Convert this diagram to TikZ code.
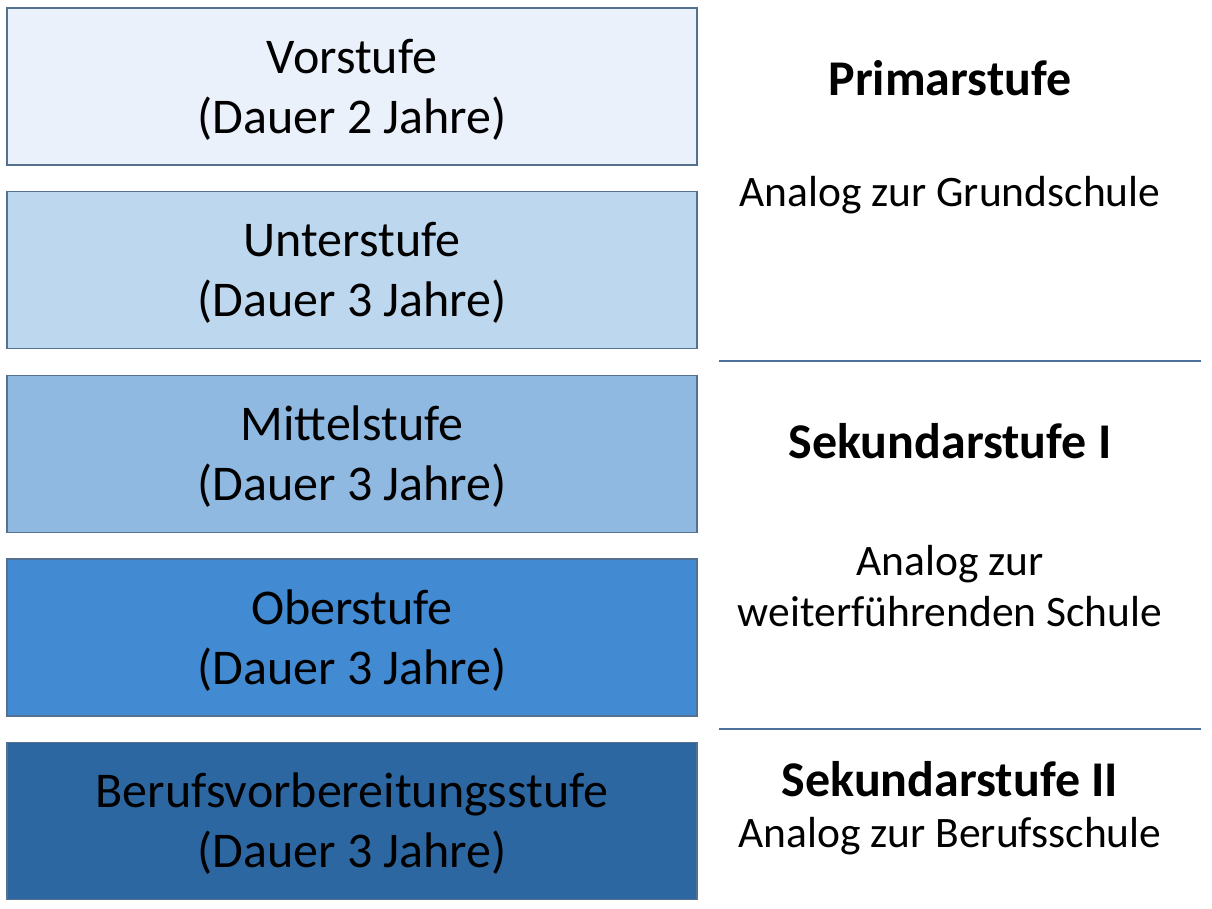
\documentclass[tikz,border=0pt]{standalone}
\usepackage{fontspec}
\setmainfont{Carlito}
\definecolor{cA}{HTML}{EBF1FA}
\definecolor{cB}{HTML}{BDD7EE}
\definecolor{cC}{HTML}{8FB9E1}
\definecolor{cD}{HTML}{428AD2}
\definecolor{cE}{HTML}{2D67A2}
\definecolor{edge}{HTML}{56708F}
\definecolor{sep}{HTML}{4F6F9C}
\tikzset{
  stage/.style={draw=edge, line width=1.5pt, minimum width=690pt, minimum height=157pt, inner sep=0pt},
  stagetext/.style={align=center, font=\fontsize{50}{60}\selectfont, text=black, inner sep=0pt, yshift=-3pt},
  head/.style={font=\fontsize{50}{59}\selectfont\bfseries, align=center, inner sep=0pt},
  note/.style={font=\fontsize{43.5}{51}\selectfont, align=center, inner sep=0pt},
  sepline/.style={draw=sep, line width=2pt}
}
\begin{document}
\begin{tikzpicture}[x=1pt,y=-1pt]
\useasboundingbox (0,0) rectangle (1212,909);
\fill[white] (0,0) rectangle (1212,909);
\node[stage, fill=cA, label={[stagetext]center:Vorstufe\\(Dauer 2 Jahre)}] (s1) at (352,86.5) {};
\node[stage, fill=cB, label={[stagetext]center:Unterstufe\\(Dauer 3 Jahre)}] (s2) at (352,270) {};
\node[stage, fill=cC, label={[stagetext]center:Mittelstufe\\(Dauer 3 Jahre)}] (s3) at (352,454) {};
\node[stage, fill=cD, label={[stagetext]center:Oberstufe\\(Dauer 3 Jahre)}] (s4) at (352,637.5) {};
\node[stage, fill=cE, label={[stagetext]center:Berufsvorbereitungsstufe\\(Dauer 3 Jahre)}] (s5) at (352,821) {};

\node[head] (h1) at (950,78) {Primarstufe};
\node[note] (n1) at (950,195) {Analog zur Grundschule};
\coordinate (l1a) at (719,361);
\coordinate (l1b) at (1201,361);
\draw[sepline] (l1a) -- (l1b);
\node[head] (h2) at (950,441) {Sekundarstufe I};
\node[note] (n2) at (950,586) {Analog zur\\weiterführenden Schule};
\coordinate (l2a) at (719,729);
\coordinate (l2b) at (1201,729);
\draw[sepline] (l2a) -- (l2b);
\node[head] (h3) at (950,779) {Sekundarstufe II};
\node[note] (n3) at (950,836) {Analog zur Berufsschule};
\end{tikzpicture}
\end{document}
